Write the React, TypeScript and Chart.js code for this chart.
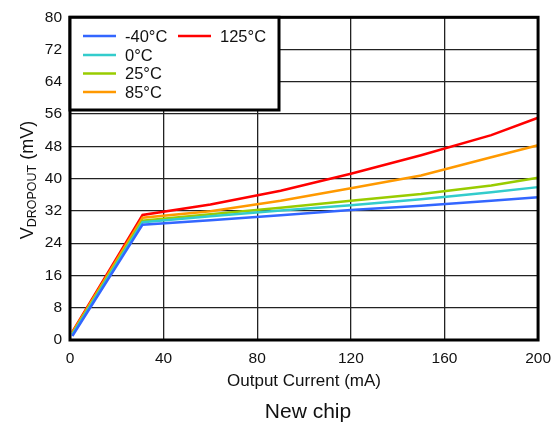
import React, { useEffect, useRef } from "react";
import { Chart, registerables } from "chart.js";

Chart.register(...registerables);

const currents = [1, 31, 60, 90, 120, 150, 180, 200];
const tempLabels = ["-40°C", "0°C", "25°C", "85°C", "125°C"];
const colors = ["#3366FF", "#33CCCC", "#99CC00", "#FF9900", "#FF0000"];
const vMinus40 = [1.0, 28.6, 29.7, 30.9, 32.2, 33.3, 34.5, 35.4];
const v0 = [1.3, 29.2, 30.7, 32.1, 33.4, 34.9, 36.6, 37.9];
const v25 = [1.5, 29.6, 31.2, 32.8, 34.5, 36.2, 38.3, 40.2];
const v85 = [1.8, 30.3, 31.9, 34.5, 37.6, 40.8, 45.3, 48.3];
const v125 = [2.0, 31.0, 33.6, 37.0, 41.2, 45.8, 50.8, 55.1];
const series = [vMinus40, v0, v25, v85, v125];

const xTitle = "Output Current (mA)";
const caption = "New chip";
const FONT = "'Liberation Sans', Arial, sans-serif";

const decorPlugin = {
  id: "decor",
  afterDraw(chart: any) {
    const { ctx, chartArea } = chart;
    const { left, right, top, bottom } = chartArea;
    ctx.save();
    // plot border
    ctx.strokeStyle = "#000";
    ctx.lineWidth = 3;
    ctx.strokeRect(left, top, right - left, bottom - top);

    // legend box
    const lx = left, ly = top, lw = 279 - left, lh = 110 - top;
    ctx.fillStyle = "#fff";
    ctx.fillRect(lx, ly, lw, lh);
    ctx.lineWidth = 3;
    ctx.strokeRect(lx, ly, lw, lh);
    const positions = [
      [83, 36], [83, 55], [83, 73.5], [83, 92], [178, 36],
    ];
    ctx.font = `16.5px ${FONT}`;
    ctx.textBaseline = "middle";
    ctx.textAlign = "left";
    chart.data.datasets.forEach((ds: any, i: number) => {
      const [px, py] = positions[i];
      ctx.strokeStyle = ds.borderColor;
      ctx.lineWidth = 2.5;
      ctx.beginPath();
      ctx.moveTo(px, py);
      ctx.lineTo(px + 33, py);
      ctx.stroke();
      ctx.fillStyle = "#111";
      ctx.fillText(ds.label, px + 42, py + 1);
    });

    // x title
    ctx.fillStyle = "#111";
    ctx.textAlign = "center";
    ctx.textBaseline = "alphabetic";
    ctx.font = `17px ${FONT}`;
    ctx.fillText(xTitle, (left + right) / 2, 386);
    ctx.font = `21px ${FONT}`;
    ctx.fillText(caption, 308, 418);

    // y title with subscript
    ctx.translate(33, 180);
    ctx.rotate(-Math.PI / 2);
    ctx.textAlign = "left";
    const bigFont = `18px ${FONT}`;
    const smallFont = `12.5px ${FONT}`;
    ctx.font = bigFont;
    const wV = ctx.measureText("V").width;
    const wTail = ctx.measureText(" (mV)").width;
    ctx.font = smallFont;
    const wSub = ctx.measureText("DROPOUT").width;
    let u = -(wV + wSub + wTail) / 2;
    ctx.font = bigFont;
    ctx.fillText("V", u, 0);
    u += wV;
    ctx.font = smallFont;
    ctx.fillText("DROPOUT", u, 3);
    u += wSub;
    ctx.font = bigFont;
    ctx.fillText(" (mV)", u, 0);
    ctx.restore();
  },
};

export default function App() {
  const ref = useRef<HTMLCanvasElement | null>(null);
  useEffect(() => {
    if (!ref.current) return;
    const chart = new Chart(ref.current, {
      type: "line",
      data: {
        datasets: series.map((vals, i) => ({
          label: tempLabels[i],
          data: currents.map((c, j) => ({ x: c, y: vals[j] })),
          borderColor: colors[i],
          backgroundColor: colors[i],
          borderWidth: 2.5,
          pointRadius: 0,
          tension: 0,
          fill: false,
        })),
      },
      options: {
        responsive: false,
        animation: false,
        layout: { padding: { top: 16, right: 21, left: 0, bottom: 0 } },
        plugins: {
          legend: { display: false },
          tooltip: { enabled: false },
        },
        scales: {
          x: {
            type: "linear",
            min: 0,
            max: 200,
            ticks: {
              stepSize: 40,
              color: "#111",
              font: { family: FONT, size: 15.5 },
              padding: 9,
              maxRotation: 0,
            },
            grid: { color: "#222", lineWidth: 1.3, drawTicks: false },
            border: { display: false },
            afterFit: (s: any) => { s.height = 85; },
          },
          y: {
            min: 0,
            max: 80,
            ticks: {
              stepSize: 8,
              color: "#111",
              font: { family: FONT, size: 15.5 },
              padding: 8,
            },
            grid: { color: "#222", lineWidth: 1.3, drawTicks: false },
            border: { display: false },
            afterFit: (s: any) => { s.width = 70; },
          },
        },
      },
      plugins: [decorPlugin],
    });
    return () => chart.destroy();
  }, []);
  return (
    <div style={{ position: "fixed", left: 0, top: 0, width: 560, height: 425, background: "#fff" }}>
      <canvas ref={ref} width={560} height={425} />
    </div>
  );
}
